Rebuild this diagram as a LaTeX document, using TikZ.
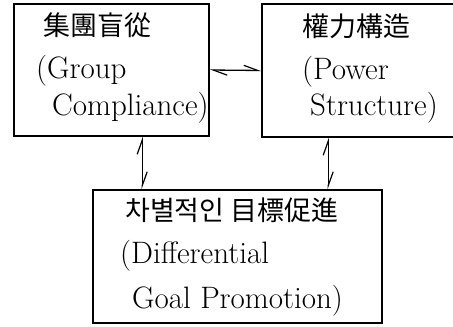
\documentclass[tikz,border=0pt]{standalone}
\usepackage{fontspec}
\newfontfamily\cjk{Noto Sans CJK KR}[Scale=0.87]
\usetikzlibrary{arrows.meta}
\begin{document}
\begin{tikzpicture}[x=1pt,y=-1pt,
  box/.style={draw, line width=1.6pt, inner sep=0pt},
  txt/.style={anchor=base west, inner sep=0pt, font=\fontsize{31}{34}\selectfont},
  halfbarb/.tip={Straight Barb[harpoon,length=14pt,width=10pt,line width=1.2pt]},
  link/.style={line width=1.3pt, halfbarb-halfbarb}]
\useasboundingbox (0,0) rectangle (453,327);
\clip (0,0) rectangle (453,327);

% the three boxes
\node[box, minimum width=195pt, minimum height=132pt] (gc) at (111.5,70) {};
\node[box, minimum width=198pt, minimum height=133pt] (ps) at (361,70.5) {};
\node[box, minimum width=289pt, minimum height=133pt] (dg) at (237.5,256.5) {};

% labels
\node[txt] (gc1) at (43,35) {\cjk 集團盲從};
\node[txt] (gc2) at (36,78) {(Group};
\node[txt] (gc3) at (52,115) {Compliance)};

\node[txt] (ps1) at (302,36) {\cjk 權力構造};
\node[txt] (ps2) at (302,79) {(Power};
\node[txt] (ps3) at (310,115) {Structure)};

\node[txt] (dg1) at (125,220) {\cjk 차별적인 目標促進};
\node[txt] (dg2) at (120,263) {(Differential};
\node[txt] (dg3) at (132,308) {Goal Promotion)};

% two-way links
\draw[link] (gc.east) -- (ps.west);
\draw[link] ([xshift=129pt]gc.south west) -- ([xshift=50pt]dg.north west);
\draw[link] ([xshift=67pt]ps.south west) -- ([xshift=236pt]dg.north west);
\end{tikzpicture}
\end{document}
